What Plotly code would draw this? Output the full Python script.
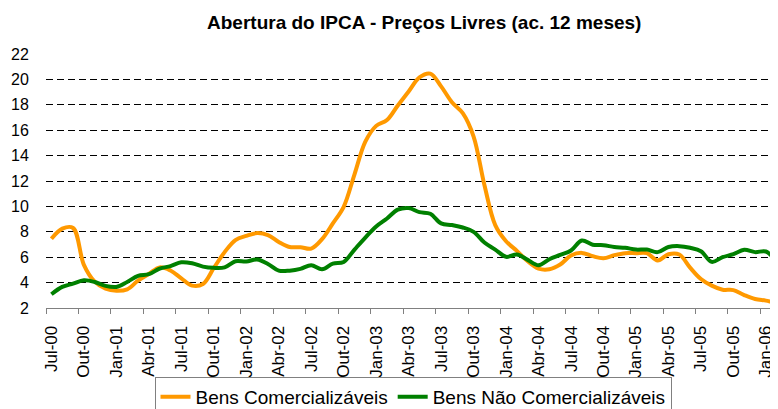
import plotly.graph_objects as go

month_names = ["Jan", "Fev", "Mar", "Abr", "Mai", "Jun", "Jul", "Ago", "Set", "Out", "Nov", "Dez"]
categories = []
for year in range(0, 7):
    for m_idx, m in enumerate(month_names):
        if year == 0 and m_idx < 6:
            continue
        if year == 6 and m_idx > 2:
            continue
        categories.append(f"{m}-{year:02d}")

bens_comercializaveis = [
    7.45, 8.25, 8.3, 5.4, 4.07, 3.52, 3.36, 3.47, 4.15, 4.68, 5.2, 4.95,
    4.34, 3.76, 3.89, 5.15, 6.4, 7.35, 7.68, 7.9, 7.74, 7.2, 6.8, 6.79,
    6.68, 7.42, 8.66, 9.97, 12.53, 15.1, 16.34, 16.8, 17.95, 19.05, 20.16, 20.45,
    19.45, 18.2, 17.34, 15.5, 11.68, 8.53, 7.26, 6.5, 5.68, 5.1, 5.05, 5.42,
    6.13, 6.34, 6.08, 5.92, 6.16, 6.32, 6.32, 6.32, 5.74, 6.23, 6.21, 5.18,
    4.28, 3.76, 3.44, 3.41, 3.02, 2.71, 2.58, 2.42, 2.45,
]
bens_nao_comercializaveis = [
    3.08, 3.66, 3.92, 4.18, 4.05, 3.74, 3.66, 4.05, 4.53, 4.66, 5.1, 5.3,
    5.6, 5.52, 5.26, 5.16, 5.2, 5.68, 5.66, 5.82, 5.47, 4.94, 4.94, 5.08,
    5.37, 5.05, 5.5, 5.63, 6.6, 7.55, 8.42, 9.05, 9.74, 9.87, 9.55, 9.42,
    8.66, 8.53, 8.34, 8.0, 7.16, 6.6, 6.03, 6.21, 5.79, 5.37, 5.84, 6.18,
    6.53, 7.32, 6.98, 6.95, 6.8, 6.74, 6.6, 6.6, 6.4, 6.8, 6.87, 6.74,
    6.47, 5.63, 6.0, 6.24, 6.58, 6.4, 6.45, 5.79, 5.55,
]
y_ticks = [2, 4, 6, 8, 10, 12, 14, 16, 18, 20, 22]

x_idx = list(range(len(categories)))
label_idx = x_idx[::3]

fig = go.Figure()
fig.add_trace(go.Scatter(
    x=x_idx, y=bens_comercializaveis, mode="lines", name="Bens Comercializáveis",
    line=dict(color="#FF9900", width=4, shape="spline"),
))
fig.add_trace(go.Scatter(
    x=x_idx, y=bens_nao_comercializaveis, mode="lines", name="Bens Não Comercializáveis",
    line=dict(color="#008000", width=4, shape="spline"),
))

font_family = "Liberation Sans, Arial, sans-serif"
fig.update_layout(
    width=778, height=409,
    margin=dict(l=38, r=0, t=46, b=109),
    paper_bgcolor="white", plot_bgcolor="white",
    font=dict(family=font_family, color="black"),
    title=dict(
        text="<b>Abertura do IPCA - Preços Livres (ac. 12 meses)</b>",
        font=dict(size=19, family=font_family, color="black"),
        xref="container", x=0.535, xanchor="center",
        yref="container", y=1 - 14 / 409, yanchor="middle",
    ),
    showlegend=True,
    legend=dict(
        orientation="h",
        xref="container", x=405 / 778, xanchor="center",
        yref="container", y=1 - 369 / 409, yanchor="top",
        font=dict(size=19, family=font_family, color="black"),
        bordercolor="#808080", borderwidth=1, bgcolor="white",
    ),
    xaxis=dict(
        range=[-0.5, 67.86],
        tickmode="array", tickvals=label_idx,
        ticktext=[categories[i] for i in label_idx],
        tickangle=-90, ticks="", ticklabelstandoff=10,
        tickfont=dict(size=17),
        showline=True, linecolor="#808080", linewidth=1,
        showgrid=False, zeroline=False,
        minor=dict(tickmode="array", tickvals=[i - 0.5 for i in label_idx],
                   ticks="outside", ticklen=5, tickcolor="#808080", showgrid=False),
    ),
    yaxis=dict(
        range=[2, 22], tickmode="array", tickvals=y_ticks,
        ticks="outside", ticklen=13, tickcolor="rgba(0,0,0,0)",
        tickfont=dict(size=16),
        showgrid=True, gridcolor="black", gridwidth=1, griddash="7px,4px",
        showline=False, zeroline=False,
    ),
)

fig.write_html("out.html")
